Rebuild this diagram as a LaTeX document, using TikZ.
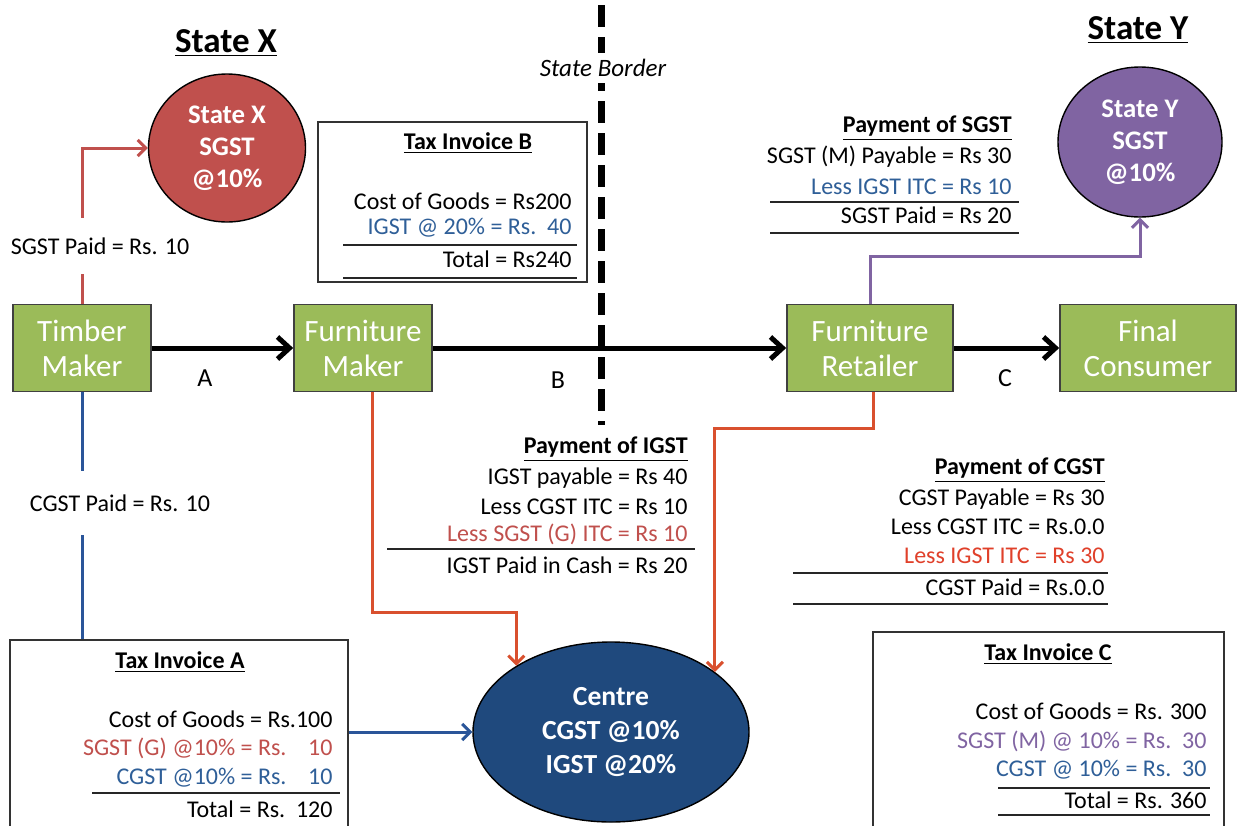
\documentclass[tikz,border=0pt]{standalone}
\usepackage{fontspec}
\setmainfont{Carlito}
\usetikzlibrary{arrows.meta,shapes.geometric}
\definecolor{boxgreen}{HTML}{9BBB59}
\definecolor{sxred}{HTML}{C0504D}
\definecolor{sypurple}{HTML}{8064A2}
\definecolor{centreblue}{HTML}{1F497D}
\definecolor{linkred}{HTML}{D9502E}
\definecolor{linkblue}{HTML}{2A5599}
\definecolor{txtblue}{HTML}{2F5F98}
\definecolor{txtred}{HTML}{C0504D}
\definecolor{txtred2}{HTML}{E0402A}
\definecolor{txtpurple}{HTML}{8064A2}
\begin{document}
\begin{tikzpicture}[x=0.5pt,y=-0.5pt,
  txt/.style={font=\fontsize{12}{14}\selectfont, inner sep=0pt, anchor=east},
  ctxt/.style={font=\fontsize{12}{14}\selectfont, inner sep=0pt},
  head/.style={font=\bfseries\fontsize{12}{14}\selectfont, inner sep=0pt},
  rulel/.style={line width=1pt, black!85},
  entity/.style={draw=black!75, line width=0.8pt, fill=boxgreen, text=white,
    minimum width=69pt, minimum height=43.5pt, align=center,
    font=\fontsize{15.5}{17.5}\selectfont, inner sep=0pt},
  govt/.style={ellipse, draw=black, line width=0.7pt, text=white, align=center,
    inner sep=0pt, font=\bfseries\fontsize{13.4}{16}\selectfont},
  invoice/.style={draw=black!80, line width=1pt, inner sep=0pt},
  flow/.style={line width=2.5pt, -{Straight Barb[length=6pt,width=11pt]}},
  thinarrow/.style={line width=1.5pt, -{Straight Barb[length=4pt,width=8pt]}},
  title/.style={font=\bfseries\fontsize{17.5}{20}\selectfont, inner sep=0pt}
]
\clip (0,0) rectangle (1247,825);
\fill[white] (0,0) rectangle (1247,825);

% state border
\draw[line width=3.5pt, dash pattern=on 11pt off 5pt] (601,5) -- (601,425);
\node[fill=white, inner sep=3pt, font=\itshape\fontsize{12.5}{14}\selectfont] (border) at (603,68) {State Border};

% titles
\node[title] (tx) at (226,43) {\underline{State X}};
\node[title] (ty) at (1138,30) {\underline{State Y}};

% entities
\node[entity] (timber) at (82,348) {Timber\\Maker};
\node[entity] (fm) at (363,348) {Furniture\\Maker};
\node[entity, minimum width=83pt] (retailer) at (870,348) {Furniture\\Retailer};
\node[entity, minimum width=88pt] (consumer) at (1148,348) {Final\\Consumer};

% government circles
\node[govt, fill=sxred, minimum width=78.5pt, minimum height=74pt] (sx) at (227,148) {State X\\SGST\\@10\%};
\node[govt, fill=sypurple, minimum width=82pt, minimum height=75pt] (sy) at (1140,142) {State Y\\SGST\\@10\%};
\node[govt, fill=centreblue, minimum width=138pt, minimum height=90pt,
  font=\bfseries\fontsize{13.8}{17}\selectfont] (centre) at (611,732) {Centre\\CGST @10\%\\IGST @20\%};

% main flow
\draw[flow] (timber.east) -- (fm.west);
\draw[flow] (fm.east) -- (retailer.west);
\draw[flow] (retailer.east) -- (consumer.west);
\node[font=\fontsize{13}{15}\selectfont] (la) at (205,378) {A};
\node[font=\fontsize{13}{15}\selectfont] (lb) at (558,380) {B};
\node[font=\fontsize{13}{15}\selectfont] (lc) at (1005,378) {C};

% invoice boxes
\node[invoice, minimum width=134.5pt, minimum height=80pt] (invB) at (452.5,202) {};
\node[invoice, minimum width=169pt, minimum height=95pt] (invA) at (179,735) {};
\node[invoice, minimum width=175.5pt, minimum height=99pt] (invC) at (1048.5,731) {};

% tax payment connectors
\draw[thinarrow, sxred] (timber.north) |- (sx.west);
\node[ctxt, fill=white, inner xsep=2pt, inner ysep=10pt] (sgstpaid) at (100,246) {SGST Paid = Rs. 10};
\draw[line width=1.5pt, linkblue] (timber.south) -- (timber.south |- invA.north);
\node[ctxt, fill=white, inner xsep=2pt, inner ysep=12pt] (cgstpaid) at (120,503) {CGST Paid = Rs. 10};
\draw[thinarrow, sypurple] (retailer.north) -- ++(0,-47) -| (sy.south);
\draw[thinarrow, linkred] ([xshift=4.5pt]fm.south) -- ++(0,220) -| (centre.145);
\draw[thinarrow, linkred] ([xshift=1.5pt]retailer.south) -- ++(0,36) -| (centre.30);
\draw[thinarrow, linkblue] (centre.west -| invA.east) -- (centre.west);

% Tax Invoice B
\node[head] (tbT) at (468,143) {\underline{Tax Invoice B}};
\node[txt] (tb1) at (572,201) {Cost of Goods = Rs200};
\node[txt, text=txtblue] (tb2) at (572,228) {IGST @ 20\% = Rs.\ \ 40};
\draw[rulel] (343,245) -- (577,245);
\node[txt] (tb3) at (572,259) {Total = Rs240};
\draw[rulel] (343,278) -- (577,278);

% Payment of SGST
\node[head, anchor=east] (psT) at (1012,128) {\underline{Payment of SGST}};
\node[txt] (ps1) at (1012,157) {SGST (M) Payable = Rs 30};
\node[txt, text=txtblue] (ps2) at (1012,187) {Less IGST ITC = Rs 10};
\draw[rulel] (770,202) -- (1019,202);
\node[txt] (ps3) at (1012,215) {SGST Paid = Rs 20};
\draw[rulel] (770,233) -- (1019,233);

% Payment of IGST
\node[head, anchor=east] (piT) at (688,449) {\underline{Payment of IGST}};
\node[txt] (pi1) at (688,478) {IGST payable = Rs 40};
\node[txt] (pi2) at (688,507) {Less CGST ITC = Rs 10};
\node[txt, text=txtred] (pi3) at (688,534) {Less SGST (G) ITC = Rs 10};
\draw[rulel] (387,549) -- (695,549);
\node[txt] (pi4) at (688,565) {IGST Paid in Cash = Rs 20};

% Payment of CGST
\node[head, anchor=east] (pcT) at (1105,470) {\underline{Payment of CGST}};
\node[txt] (pc1) at (1105,499) {CGST Payable = Rs 30};
\node[txt] (pc2) at (1105,527) {Less CGST ITC = Rs.0.0};
\node[txt, text=txtred2] (pc3) at (1105,556) {Less IGST ITC = Rs 30};
\draw[rulel] (793,573) -- (1108,573);
\node[txt] (pc4) at (1105,587) {CGST Paid = Rs.0.0};
\draw[rulel] (793,604) -- (1108,604);

% Tax Invoice A
\node[head] (taT) at (180,662) {\underline{Tax Invoice A}};
\node[txt] (ta1) at (333,719) {Cost of Goods = Rs.100};
\node[txt, text=txtred] (ta2) at (333,748) {SGST (G) @10\% = Rs.\ \ \ \ 10};
\node[txt, text=txtblue] (ta3) at (333,778) {CGST @10\% = Rs.\ \ \ \ 10};
\draw[rulel] (92,793) -- (340,793);
\node[txt] (ta4) at (333,809) {Total = Rs.\ \ 120};

% Tax Invoice C
\node[head] (tcT) at (1048,654) {\underline{Tax Invoice C}};
\node[txt] (tc1) at (1207,711) {Cost of Goods = Rs. 300};
\node[txt, text=txtpurple] (tc2) at (1207,741) {SGST (M) @ 10\% = Rs.\ \ 30};
\node[txt, text=txtblue] (tc3) at (1207,770) {CGST @ 10\% = Rs.\ \ 30};
\draw[rulel] (998,788) -- (1210,788);
\node[txt] (tc4) at (1207,800) {Total = Rs. 360};
\draw[rulel] (998,815) -- (1210,815);
\end{tikzpicture}
\end{document}
